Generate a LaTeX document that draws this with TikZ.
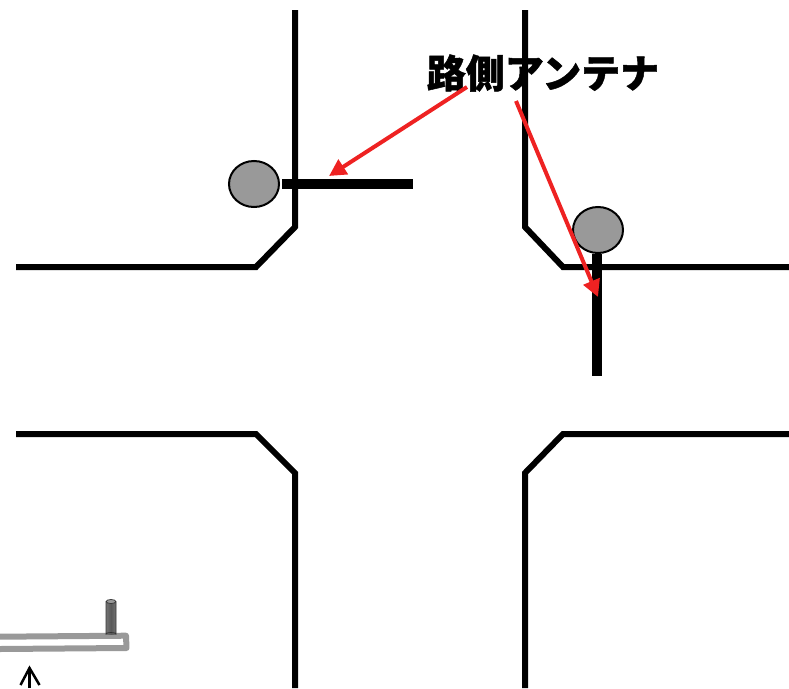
\documentclass[tikz,border=0pt]{standalone}
\usepackage{fontspec}
\newfontfamily\cjk{Noto Sans CJK JP}[BoldFeatures={FakeBold=1.2}]
\usetikzlibrary{arrows.meta,shapes.geometric}
\definecolor{lampgray}{HTML}{999999}
\definecolor{redline}{HTML}{EE2222}
\tikzset{
  road/.style={line width=6pt,line join=miter,black},
  bar/.style={line width=9.5pt,black},
  lamp/.style={ellipse,draw=black,line width=2pt,fill=lampgray,inner sep=0pt,minimum width=50pt,minimum height=46pt},
  pointer/.style={redline,line width=4pt,-{Triangle[length=17pt,width=17pt]},shorten >=0pt},
  curbline/.style={line width=6pt,color=lampgray,line join=round}
}
\begin{document}
\begin{tikzpicture}[x=1pt,y=-1pt]
\useasboundingbox (0,0) rectangle (789,688);
% roads
\draw[road] (295,10) -- (295,227) -- (256,267) -- (16,267);
\draw[road] (525,10) -- (525,227) -- (563,267) -- (789,267);
\draw[road] (16,434) -- (256,434) -- (295,473) -- (295,688);
\draw[road] (789,434) -- (563,434) -- (525,473) -- (525,688);
% antennas
\coordinate (barAa) at (282,184);
\coordinate (barAb) at (413,184);
\coordinate (barBa) at (597,254);
\coordinate (barBb) at (597,376);
\draw[bar] (barAa) -- (barAb);
\draw[bar] (barBa) -- (barBb);
\node[lamp] (lampA) at (254,184) {};
\node[lamp] (lampB) at (598,230) {};
% label
\node[inner sep=0pt,anchor=center,font=\cjk\bfseries\fontsize{39}{39}\selectfont] (label) at (543,73) {路側アンテナ};
% pointers
\coordinate (fromA) at (467,87);
\coordinate (toA) at (329,176);
\coordinate (fromB) at (516,101);
\coordinate (toB) at (598,297);
\draw[pointer] (fromA) -- (toA);
\draw[pointer] (fromB) -- (toB);
% small icon
\draw[curbline] (0,636.7) -- (126,635.7) -- (126.5,648) -- (0,649);
\fill[left color=black!55,right color=black!55,middle color=black!65] (106,602) rectangle (116,634);
\draw[black!80,line width=0.8pt] (106,602) -- (106,634) arc[x radius=5,y radius=1.5,start angle=180,end angle=360] -- (116,602);
\draw[black!80,line width=0.7pt,fill=lampgray] (111,601.5) ellipse[x radius=5,y radius=2];
% up arrow
\coordinate (upEnd) at (29.5,688);
\coordinate (upTip) at (29.5,668);
\draw[black,line width=2.5pt] (upEnd) -- (upTip);
\draw[black,line width=2.5pt] (20.5,685) -- (upTip) -- (39.5,685);
\end{tikzpicture}
\end{document}
